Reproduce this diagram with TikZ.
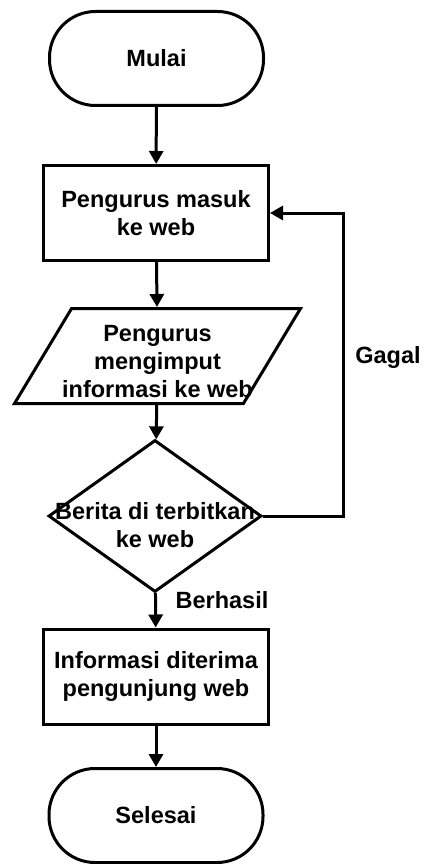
\documentclass[tikz,border=0pt]{standalone}
\usepackage{fontspec}
\setmainfont{Liberation Sans}
\usetikzlibrary{shapes.geometric,arrows.meta}

\begin{document}
\begin{tikzpicture}[x=1pt,y=-1pt]
% Styles
\tikzstyle{none} = [font=\fontsize{23.5}{28}\selectfont\bfseries, align=center, inner sep=0pt]
\tikzstyle{terminal}=[style=none, draw, line width=3pt, rounded corners=46pt, minimum width=214pt, minimum height=94pt]
\tikzstyle{process}=[style=none, draw, line width=3pt, minimum width=225pt, minimum height=95pt]
\tikzstyle{io}=[draw, line width=3pt, shape=trapezium, trapezium left angle=59, trapezium right angle=121, trapezium stretches body, minimum width=286pt, inner xsep=0pt, inner ysep=47.5pt]
\tikzstyle{decision}=[draw, line width=3pt, diamond, minimum width=213pt, minimum height=152pt, inner sep=0pt]
\tikzstyle{arrow}=[line width=3pt, -{Triangle[width=14pt,length=13pt]}]

\useasboundingbox (0,0) rectangle (425,864);

\node [style=terminal] (1) at (156.5, 58.5) {Mulai};
\node [style=process] (2) at (156, 213) {Pengurus masuk\\ke web};
\node [style=io, label={[style=none, yshift=-6pt]center:Pengurus\\mengimput\\informasi ke web}] (3) at (157.5, 356) {};
\node [style=decision, label={[style=none, yshift=-9pt]center:Berita di terbitkan\\ke web}] (4) at (155, 516) {};
\node [style=process] (5) at (156, 676.5) {Informasi diterima\\pengunjung web};
\node [style=terminal] (6) at (156, 815.5) {Selesai};
\coordinate (7) at (343, 213);
\node [style=none] (8) at (388, 357) {Gagal};
\node [style=none] (9) at (222, 600) {Berhasil};

\draw [style=arrow] (1) to (2);
\draw [style=arrow] (2) to (3);
\draw [style=arrow] (3) to (4);
\draw [style=arrow] (4) to (5);
\draw [style=arrow] (5) to (6);
\draw [style=arrow] (4.east) -| (7) to (2.east);
\end{tikzpicture}
\end{document}
